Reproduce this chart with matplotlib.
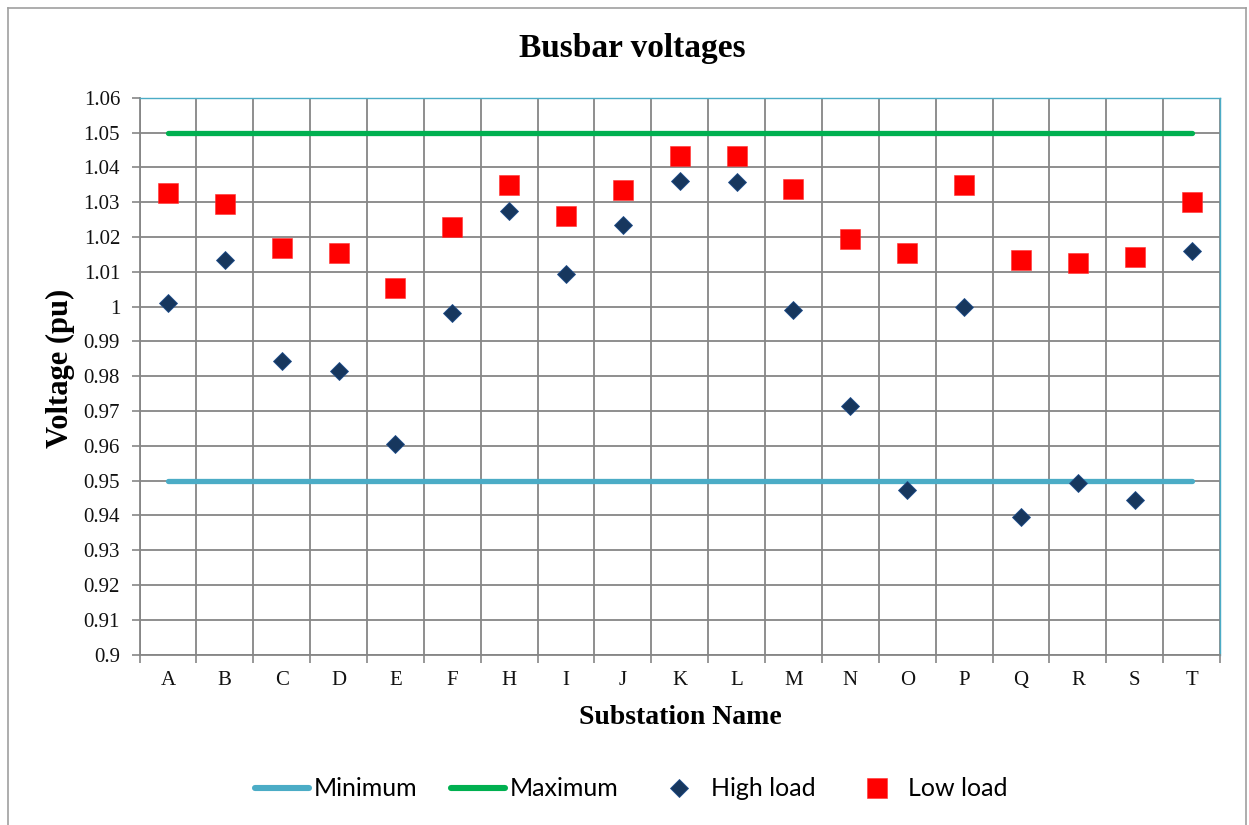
import numpy as np
import matplotlib
matplotlib.use("Agg")
import matplotlib.pyplot as plt
from matplotlib.lines import Line2D
from matplotlib.ticker import FixedLocator, FuncFormatter

# Busbar voltage data (per unit) for each substation
substations = ["A", "B", "C", "D", "E", "F", "H", "I", "J", "K",
               "L", "M", "N", "O", "P", "Q", "R", "S", "T"]
high_load = [1.0009, 1.0133, 0.9844, 0.9815, 0.9605, 0.9982, 1.0274, 1.0092,
             1.0233, 1.0360, 1.0359, 0.9991, 0.9714, 0.9472, 1.0000, 0.9396,
             0.9494, 0.9444, 1.0159]
low_load = [1.0327, 1.0294, 1.0167, 1.0155, 1.0052, 1.0229, 1.0350, 1.0260,
            1.0334, 1.0432, 1.0432, 1.0339, 1.0194, 1.0154, 1.0348, 1.0134,
            1.0126, 1.0141, 1.0301]
minimum_limit = 0.95
maximum_limit = 1.05
y_tick_values = [0.90, 0.91, 0.92, 0.93, 0.94, 0.95, 0.96, 0.97, 0.98,
                 0.99, 1.00, 1.01, 1.02, 1.03, 1.04, 1.05, 1.06]

SERIF = ["Liberation Serif", "DejaVu Serif"]
SANS = ["Lato", "DejaVu Sans"]

W, H = 1249, 825
fig = plt.figure(figsize=(W / 100, H / 100), dpi=100)
fig.patch.set_facecolor("white")

left, right, top, bottom = 139.5, 1220.0, 97.7, 654.5
ax = fig.add_axes([left / W, 1 - bottom / H, (right - left) / W, (bottom - top) / H])

x = np.arange(len(substations))
n = len(substations)

grid_col = "#868686"

ax.plot(x, [minimum_limit] * n, color="#4BACC6", lw=3.8, solid_capstyle="round",
        label="Minimum", zorder=3)
ax.plot(x, [maximum_limit] * n, color="#00B050", lw=3.8, solid_capstyle="round",
        label="Maximum", zorder=3)
ax.plot(x, high_load, linestyle="none", marker="D", markersize=9,
        markerfacecolor="#17375E", markeredgecolor="#1F4E8C", markeredgewidth=0.6,
        label="High load", zorder=4)
ax.plot(x, low_load, linestyle="none", marker="s", markersize=14.2,
        markerfacecolor="#FF0000", markeredgecolor="#FF3030", markeredgewidth=0.4,
        label="Low load", zorder=4)

ax.set_xlim(-0.5, n - 0.5)
ax.set_ylim(0.9, 1.06)

# category labels centred, grid lines on category boundaries
ax.set_xticks(x)
ax.set_xticklabels(substations)
ax.xaxis.set_minor_locator(FixedLocator(np.arange(-0.5, n, 1.0)))
ax.tick_params(axis="x", which="major", length=0, pad=12)
ax.tick_params(axis="x", which="minor", length=6, width=1.2, color=grid_col)
ax.grid(True, axis="x", which="minor", color=grid_col, lw=1.3)

ax.yaxis.set_major_locator(FixedLocator(y_tick_values))
ax.yaxis.set_major_formatter(
    FuncFormatter(lambda v, _: f"{v:.2f}".rstrip("0").rstrip(".")))
ax.tick_params(axis="y", which="major", length=6, width=1.2, color=grid_col, pad=8)
ax.grid(True, axis="y", which="major", color=grid_col, lw=1.3)
ax.set_axisbelow(True)

for lbl in ax.get_xticklabels() + ax.get_yticklabels():
    lbl.set_fontfamily(SERIF)
    lbl.set_fontsize(15)
    lbl.set_color("#111111")

for side in ("left", "bottom"):
    ax.spines[side].set_color(grid_col)
    ax.spines[side].set_linewidth(1.3)
for side in ("top", "right"):
    ax.spines[side].set_color("#4BACC6")
    ax.spines[side].set_linewidth(1.0)

# titles
fig.text(632 / W, 1 - 48 / H, "Busbar voltages", ha="center", va="center",
         fontfamily=SERIF, fontweight="bold", fontsize=24)
fig.text(680 / W, 1 - 717 / H, "Substation Name", ha="center", va="center",
         fontfamily=SERIF, fontweight="bold", fontsize=20)
fig.text(60 / W, 1 - 368 / H, "Voltage (pu)", ha="center", va="center",
         rotation=90, fontfamily=SERIF, fontweight="bold", fontsize=22)

# legend below the plot
handles, labels = ax.get_legend_handles_labels()
leg = fig.legend(handles, labels, loc="center", bbox_to_anchor=(631.5 / W, 1 - 789 / H),
                 ncol=4, frameon=False, prop={"family": SANS, "size": 18},
                 handlelength=2.15, handletextpad=0.2, columnspacing=1.35)
for ln in leg.get_lines():
    if ln.get_linestyle() != "None":
        ln.set_linewidth(4.4)

# chart area border
border = "#A0A0A0"
fig.add_artist(Line2D([8 / W, 8 / W], [0, 1 - 8 / H], transform=fig.transFigure,
                      color=border, lw=1.2))
fig.add_artist(Line2D([1246 / W, 1246 / W], [0, 1 - 8 / H], transform=fig.transFigure,
                      color=border, lw=1.2))
fig.add_artist(Line2D([8 / W, 1246 / W], [1 - 8 / H, 1 - 8 / H], transform=fig.transFigure,
                      color=border, lw=1.2))

fig.savefig("out.png", dpi=100, facecolor="white")
